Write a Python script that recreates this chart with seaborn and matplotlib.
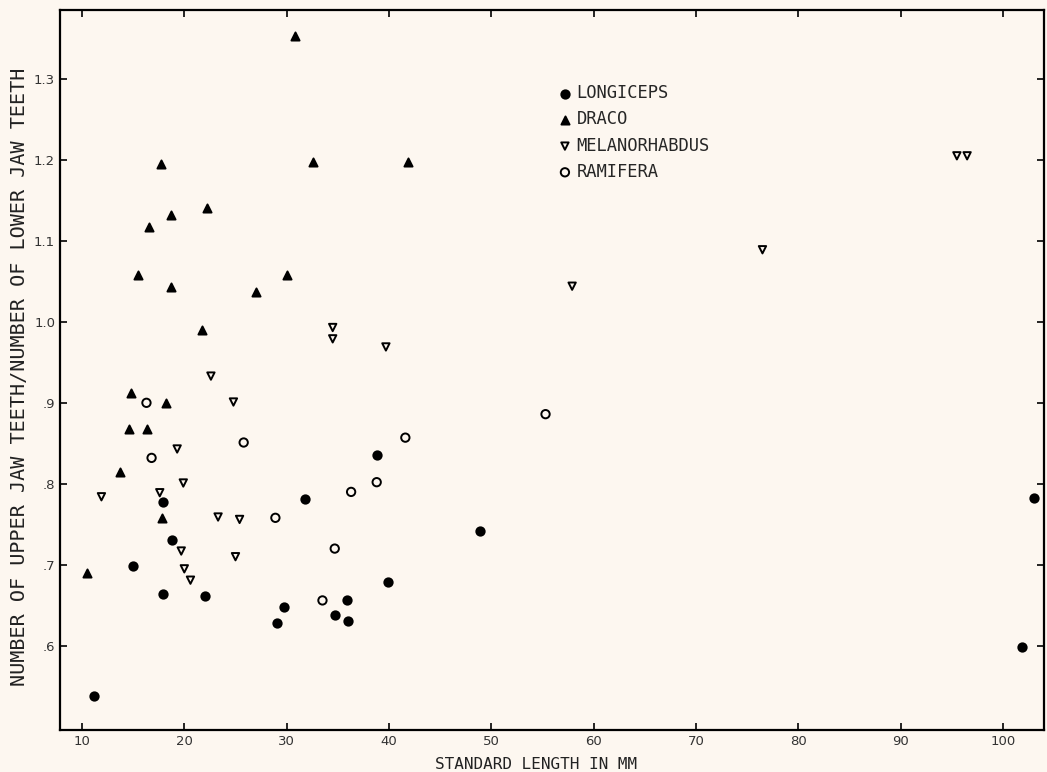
import matplotlib
matplotlib.use("Agg")
import matplotlib.pyplot as plt
import seaborn as sns
import pandas as pd

# data
longiceps_x = [11.2, 15.0, 17.9, 17.9, 18.8, 22.0, 29.1, 29.7, 31.8, 34.7, 35.9, 36.0, 38.8, 39.9, 48.9, 101.9, 103.0]
longiceps_y = [0.538, 0.699, 0.777, 0.664, 0.730, 0.662, 0.628, 0.648, 0.781, 0.638, 0.657, 0.631, 0.836, 0.679, 0.742, 0.599, 0.783]

draco_x = [30.8, 17.7, 32.6, 41.9, 22.2, 18.7, 16.5, 15.5, 30.0, 18.7, 27.0, 21.7, 14.8, 18.2, 14.6, 16.4, 13.7, 17.8, 10.5]
draco_y = [1.353, 1.195, 1.197, 1.197, 1.141, 1.132, 1.117, 1.058, 1.058, 1.043, 1.037, 0.990, 0.912, 0.900, 0.868, 0.868, 0.815, 0.758, 0.690]

melano_x = [34.5, 34.5, 39.7, 22.6, 24.8, 19.3, 19.9, 11.9, 17.6, 23.3, 25.4, 19.7, 25.0, 20.0, 20.6, 57.9, 76.5, 95.5, 96.5]
melano_y = [0.993, 0.979, 0.969, 0.933, 0.901, 0.843, 0.801, 0.784, 0.789, 0.759, 0.756, 0.717, 0.710, 0.695, 0.681, 1.044, 1.089, 1.205, 1.205]

ramifera_x = [16.3, 25.8, 16.8, 41.6, 38.8, 36.3, 28.9, 34.7, 33.5, 55.3]
ramifera_y = [0.900, 0.851, 0.832, 0.857, 0.802, 0.790, 0.758, 0.720, 0.656, 0.886]

x_ticks = [10, 20, 30, 40, 50, 60, 70, 80, 90, 100]
y_ticks = [0.6, 0.7, 0.8, 0.9, 1.0, 1.1, 1.2, 1.3]
y_tick_labels = [".6", ".7", ".8", ".9", "1.0", "1.1", "1.2", "1.3"]

bg = "#fdf7f0"
sns.set_theme(style="ticks")
plt.rcParams["font.family"] = ["DejaVu Sans Mono", "DejaVu Sans"]

fig = plt.figure(figsize=(10.47, 7.72), dpi=100, facecolor=bg)
ax = fig.add_axes([0.0573, 0.0544, 0.9397, 0.9326])
ax.set_facecolor(bg)

groups = [
    ("LONGICEPS", longiceps_x, longiceps_y, "o", "black", 36),
    ("DRACO", draco_x, draco_y, "^", "black", 34),
    ("MELANORHABDUS", melano_x, melano_y, "v", "none", 28),
    ("RAMIFERA", ramifera_x, ramifera_y, "o", "none", 36),
]
for name, xs, ys, mk, fc, s in groups:
    df = pd.DataFrame({"x": xs, "y": ys})
    sns.scatterplot(data=df, x="x", y="y", marker=mk, s=s, facecolor=fc,
                    edgecolor="black", linewidth=1.4, label=name, ax=ax)

ax.set_xlim(7.85, 104.0)
ax.set_ylim(0.496, 1.385)
ax.set_xticks(x_ticks)
ax.set_xticklabels([str(t) for t in x_ticks], fontfamily="DejaVu Sans", fontsize=9.5, color="#333333")
ax.set_yticks(y_ticks)
ax.set_yticklabels(y_tick_labels, fontfamily="DejaVu Sans", fontsize=9.5, color="#333333")
ax.tick_params(direction="in", length=5, width=1.2, top=True, right=True, color="black")

for sp in ax.spines.values():
    sp.set_linewidth(1.6)
    sp.set_color("black")

ax.set_xlabel("STANDARD LENGTH IN MM", fontsize=11.5, color="#222222")
ax.xaxis.set_label_coords(0.484, -0.037)
ax.set_ylabel("NUMBER OF UPPER JAW TEETH/NUMBER OF LOWER JAW TEETH", fontsize=14.5,
              color="#222222")
ax.yaxis.set_label_coords(-0.032, 0.49)

ax.legend(loc="upper left", bbox_to_anchor=(0.5067, 0.897), frameon=False,
          fontsize=12.3, handlelength=0.75, handletextpad=0.3, labelspacing=0.48,
          borderpad=0, borderaxespad=0, markerscale=1.0)

fig.savefig("out.png", dpi=100, facecolor=bg)
